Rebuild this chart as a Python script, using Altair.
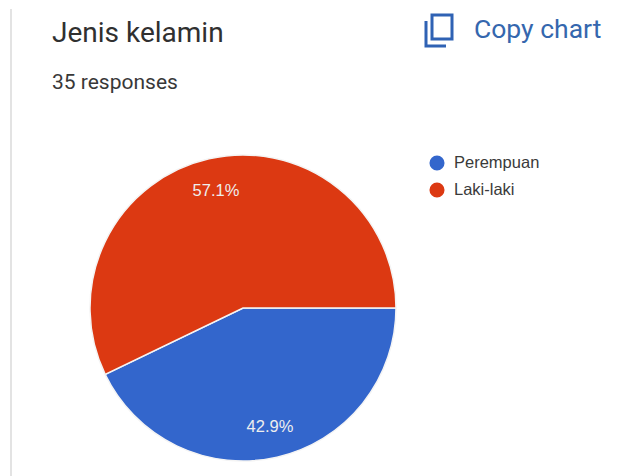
import altair as alt
import pandas as pd

labels = ["Perempuan", "Laki-laki"]
counts = [15, 20]
colors = ["#3366cc", "#dc3912"]
pct_text = ["42.9%", "57.1%"]

W, H = 641, 476
CX, CY, R = 243, 308, 153

df = pd.DataFrame({"label": labels, "count": counts, "pct": pct_text})

x_full = alt.Scale(domain=[0, W], range=[0, W])
y_full = alt.Scale(domain=[0, H], range=[0, H])

# Slices start at three o'clock and run clockwise
pie = alt.Chart(df).mark_arc(
    outerRadius=R, stroke="#f4f4f4", strokeWidth=1.5
).encode(
    theta=alt.Theta("count:Q", stack=True, scale=alt.Scale(domain=[0, 35], range=[1.5708, 7.854])),
    color=alt.Color("label:N", scale=alt.Scale(domain=labels, range=colors), legend=None),
    order=alt.Order("label:N", sort="descending"),
    x=alt.value(CX),
    y=alt.value(CY),
)

pct_df = pd.DataFrame({"x": [270, 216], "y": [427, 191], "t": ["42.9%", "57.1%"]})
pct = alt.Chart(pct_df).mark_text(
    color="#eeeeee", fontSize=16.5, font="Liberation Sans"
).encode(
    x=alt.X("x:Q", scale=x_full, axis=None),
    y=alt.Y("y:Q", scale=y_full, axis=None),
    text="t:N",
)

leg_df = pd.DataFrame({"x": [437, 437], "y": [163, 190], "t": labels})
leg_dots = alt.Chart(leg_df).mark_point(filled=True, size=227, opacity=1).encode(
    x=alt.X("x:Q", scale=x_full, axis=None),
    y=alt.Y("y:Q", scale=y_full, axis=None),
    color=alt.Color("t:N", scale=alt.Scale(domain=labels, range=colors), legend=None),
)
leg_text = alt.Chart(leg_df).mark_text(
    align="left", dx=17, fontSize=16.5, color="#3a3a3a", font="Liberation Sans"
).encode(
    x=alt.X("x:Q", scale=x_full, axis=None),
    y=alt.Y("y:Q", scale=y_full, axis=None),
    text="t:N",
)

titles_df = pd.DataFrame({
    "x": [52, 52, 474],
    "y": [34, 83, 30],
    "t": ["Jenis kelamin", "35 responses", "Copy chart"],
    "s": [28, 21, 26.5],
    "c": ["#303030", "#383838", "#3567ae"],
})
titles = alt.Chart(titles_df).mark_text(align="left", font="Roboto").encode(
    x=alt.X("x:Q", scale=x_full, axis=None),
    y=alt.Y("y:Q", scale=y_full, axis=None),
    text="t:N",
    size=alt.Size("s:Q", scale=None, legend=None),
    color=alt.Color("c:N", scale=None, legend=None),
)

# Copy icon: two offset page outlines
icon_back = alt.Chart(pd.DataFrame({"x": [426, 426, 446], "y": [21, 46, 46]})).mark_line(
    color="#2f62b4", strokeWidth=3
).encode(
    x=alt.X("x:Q", scale=x_full, axis=None),
    y=alt.Y("y:Q", scale=y_full, axis=None),
    order=alt.Order("y:Q"),
)
icon_front = alt.Chart(pd.DataFrame({"x": [432], "x2": [452], "y": [15], "y2": [39]})).mark_rect(
    fill="white", stroke="#2f62b4", strokeWidth=3
).encode(
    x=alt.X("x:Q", scale=x_full, axis=None),
    x2="x2:Q",
    y=alt.Y("y:Q", scale=y_full, axis=None),
    y2="y2:Q",
)

# Thin vertical rule on the left edge
edge = alt.Chart(pd.DataFrame({"x": [11], "y": [9], "y2": [476]})).mark_rule(
    color="#e3e3e3", strokeWidth=2
).encode(
    x=alt.X("x:Q", scale=x_full, axis=None),
    y=alt.Y("y:Q", scale=y_full, axis=None),
    y2="y2:Q",
)

chart = alt.layer(edge, pie, pct, leg_dots, leg_text, titles, icon_back, icon_front).properties(
    width=W, height=H, padding=0, background="white", autosize=alt.AutoSizeParams(type="none")
).configure_view(stroke=None)

chart.save("out.html", embed_options={"renderer": "svg", "actions": False})
